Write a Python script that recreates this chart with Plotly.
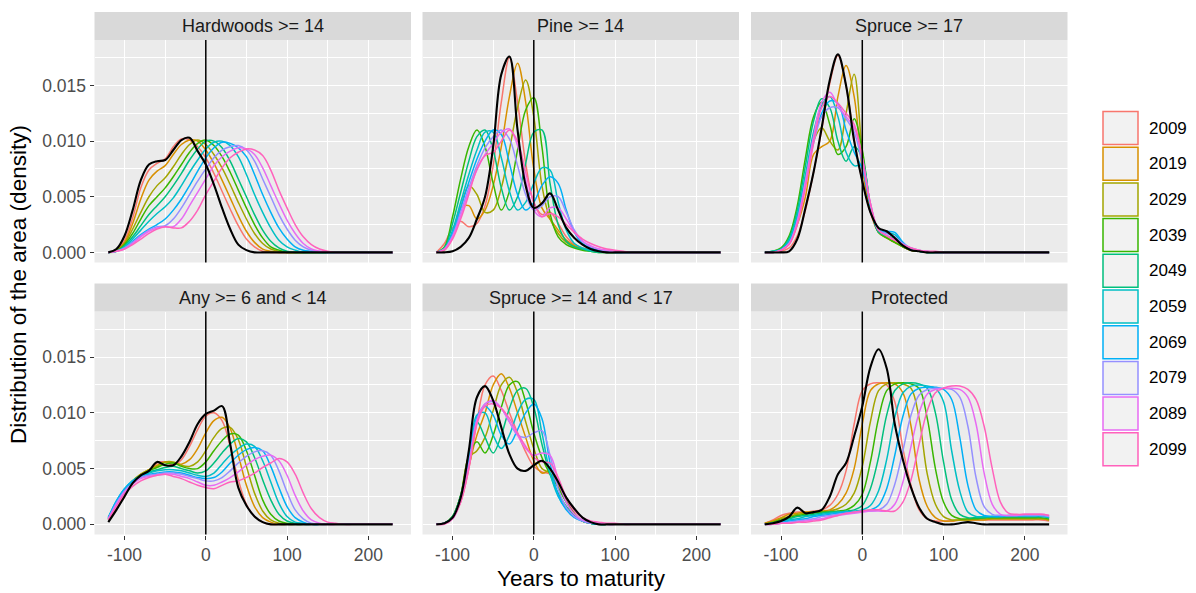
import plotly.graph_objects as go

W, H = 1196, 593
UNIT = 1e-4  # density values below are in units of 1e-4

X_GRID = [-120, -110, -100, -90, -80, -70, -60, -50, -40, -30, -20, -10,
          0, 10, 20, 30, 40, 50, 60, 70, 80, 90, 100, 110,
          120, 130, 140, 150, 160, 170, 180, 190, 200, 210, 220, 230]

YEARS = ["2009", "2019", "2029", "2039", "2049", "2059", "2069", "2079", "2089", "2099"]
YEAR_COLOURS = ["#F8766D", "#D89000", "#A3A500", "#39B600", "#00BF7D",
                "#00BFC4", "#00B0F6", "#9590FF", "#E76BF3", "#FF62BC"]
PANEL_TITLES = ["Hardwoods >= 14", "Pine >= 14", "Spruce >= 17",
                "Any >= 6 and < 14", "Spruce >= 14 and < 17", "Protected"]

X_TICKS = [-100, 0, 100, 200]
X_TICK_LABELS = ["-100", "0", "100", "200"]
X_MINOR = [-50, 50, 150]
Y_TICKS = [0.0, 0.005, 0.010, 0.015]
Y_TICK_LABELS = ["0.000", "0.005", "0.010", "0.015"]
Y_MINOR = [0.0025, 0.0075, 0.0125, 0.0175]
VLINE_X = 0

# ---------------- Hardwoods >= 14 ----------------
HARDWOODS_BY_YEAR = [
    [0,2,11,31,58,74,80,84,95,102,101,95, 85,71,55,39,24,12,5,1,0,0,0,0, 0,0,0,0,0,0,0,0,0,0,0,0],
    [0,2,9,26,48,65,73,78,88,97,101,100, 92,80,65,49,33,19,9,3,1,0,0,0, 0,0,0,0,0,0,0,0,0,0,0,0],
    [0,2,8,21,36,50,60,67,77,88,97,101, 97,88,76,61,45,30,17,8,3,1,0,0, 0,0,0,0,0,0,0,0,0,0,0,0],
    [0,1,7,17,30,42,50,58,68,79,90,98, 101,96,86,72,56,40,25,13,5,2,0,0, 0,0,0,0,0,0,0,0,0,0,0,0],
    [0,1,6,14,24,34,42,50,60,71,83,93, 100,100,94,82,66,50,34,20,10,4,1,0, 0,0,0,0,0,0,0,0,0,0,0,0],
    [0,1,5,12,20,28,35,41,49,60,72,83, 93,99,100,96,86,70,52,36,22,11,5,2, 0,0,0,0,0,0,0,0,0,0,0,0],
    [0,1,4,10,16,21,25,30,38,48,60,73, 85,94,99,98,94,86,70,52,36,22,12,5, 2,1,0,0,0,0,0,0,0,0,0,0],
    [0,1,4,9,15,20,23,24,30,40,52,64, 75,85,92,95,96,92,82,66,50,34,21,11, 5,2,1,0,0,0,0,0,0,0,0,0],
    [0,1,3,8,14,19,22,23,23,30,42,54, 66,78,86,91,94,93,88,76,60,44,29,17, 8,3,1,0,0,0,0,0,0,0,0,0],
    [0,1,3,7,12,17,21,23,22,22,28,38, 52,64,76,85,90,93,92,87,74,56,40,25, 14,7,3,1,0,0,0,0,0,0,0,0],
]
HARDWOODS_OBSERVED = [0,3,15,38,65,79,82,83,92,101,103,91, 79,61,40,21,7,2,0,0,0,0,0,0, 0,0,0,0,0,0,0,0,0,0,0,0]

# ---------------- Pine >= 14 ----------------
PINE_BY_YEAR = [
    [0,8,22,28,23,26,42,78,135,175,135,80, 45,34,36,26,14,7,4,2,1,0,0,0, 0,0,0,0,0,0,0,0,0,0,0,0],
    [0,3,15,40,42,30,38,60,95,140,170,135, 75,40,30,20,11,6,3,2,1,0,0,0, 0,0,0,0,0,0,0,0,0,0,0,0],
    [0,2,14,40,60,52,36,38,58,92,130,155, 122,60,30,17,9,5,3,2,1,0,0,0, 0,0,0,0,0,0,0,0,0,0,0,0],
    [0,5,32,66,95,110,95,62,38,55,92,128, 139,95,35,14,7,4,2,1,0,0,0,0, 0,0,0,0,0,0,0,0,0,0,0,0],
    [0,4,26,54,82,104,110,92,58,38,50,80, 108,110,62,25,10,5,3,1,0,0,0,0, 0,0,0,0,0,0,0,0,0,0,0,0],
    [0,3,20,45,70,92,108,108,85,55,38,45, 62,76,74,45,20,8,4,2,1,0,0,0, 0,0,0,0,0,0,0,0,0,0,0,0],
    [0,3,17,40,63,84,100,110,106,80,52,38, 45,60,68,62,38,18,8,4,2,1,0,0, 0,0,0,0,0,0,0,0,0,0,0,0],
    [0,3,15,36,58,78,94,104,110,102,78,52, 38,42,50,50,36,20,10,5,3,1,0,0, 0,0,0,0,0,0,0,0,0,0,0,0],
    [0,3,14,33,55,74,88,98,108,111,96,65, 38,32,40,40,30,18,10,6,3,2,1,0, 0,0,0,0,0,0,0,0,0,0,0,0],
    [0,2,12,30,52,75,87,90,100,110,100,72, 45,32,35,32,25,18,12,8,5,3,2,1, 0,0,0,0,0,0,0,0,0,0,0,0],
]
PINE_OBSERVED = [0,0,1,5,13,30,50,95,160,176,110,60, 40,44,53,38,22,13,7,3,1,0,0,0, 0,0,0,0,0,0,0,0,0,0,0,0]

# ---------------- Spruce >= 17 ----------------
SPRUCE17_BY_YEAR = [
    [0,0,1,4,15,38,72,110,152,177,150,102, 64,36,18,14,10,5,2,1,0,0,0,0, 0,0,0,0,0,0,0,0,0,0,0,0],
    [0,0,2,8,25,50,88,95,100,140,168,140, 75,38,18,13,9,5,2,1,0,0,0,0, 0,0,0,0,0,0,0,0,0,0,0,0],
    [0,0,2,9,30,65,100,112,100,92,125,160, 90,40,18,13,9,5,2,1,0,0,0,0, 0,0,0,0,0,0,0,0,0,0,0,0],
    [0,1,4,15,42,85,122,135,115,88,95,120, 92,42,18,13,9,5,2,1,0,0,0,0, 0,0,0,0,0,0,0,0,0,0,0,0],
    [0,1,3,13,38,78,118,138,130,100,82,95, 85,42,18,15,12,6,3,1,0,0,0,0, 0,0,0,0,0,0,0,0,0,0,0,0],
    [0,1,3,11,34,70,108,132,140,122,90,78, 78,42,20,18,16,8,3,1,0,0,0,0, 0,0,0,0,0,0,0,0,0,0,0,0],
    [0,0,2,9,30,64,100,125,136,134,110,90, 75,42,20,19,18,9,3,1,0,0,0,0, 0,0,0,0,0,0,0,0,0,0,0,0],
    [0,0,2,8,28,62,98,122,130,130,120,108, 80,44,20,17,14,8,4,2,1,0,0,0, 0,0,0,0,0,0,0,0,0,0,0,0],
    [0,0,2,8,28,64,104,135,144,132,122,112, 85,44,20,15,11,7,4,2,1,0,0,0, 0,0,0,0,0,0,0,0,0,0,0,0],
    [0,0,2,7,25,58,98,130,140,134,125,115, 85,44,20,15,11,7,4,2,1,1,0,0, 0,0,0,0,0,0,0,0,0,0,0,0],
]
SPRUCE17_OBSERVED = [0,0,0,1,12,40,72,112,155,178,150,100, 64,36,22,19,13,6,2,1,0,0,0,0, 0,0,0,0,0,0,0,0,0,0,0,0]

# ---------------- Any >= 6 and < 14 ----------------
ANY_BY_YEAR = [
    [4,14,26,37,44,48,55,56,53,58,70,85, 97,100,93,70,40,18,7,2,0,0,0,0, 0,0,0,0,0,0,0,0,0,0,0,0],
    [4,15,27,38,45,49,53,56,55,54,58,68, 82,93,96,86,62,35,16,6,2,0,0,0, 0,0,0,0,0,0,0,0,0,0,0,0],
    [5,17,29,39,45,49,52,56,56,53,52,56, 66,78,86,87,76,52,28,12,4,1,0,0, 0,0,0,0,0,0,0,0,0,0,0,0],
    [5,18,30,39,44,48,51,54,55,52,50,50, 56,66,75,81,80,66,44,22,9,3,1,0, 0,0,0,0,0,0,0,0,0,0,0,0],
    [6,20,31,39,44,47,49,51,52,50,48,46, 48,55,64,72,77,74,60,40,22,9,3,1, 0,0,0,0,0,0,0,0,0,0,0,0],
    [6,21,32,39,43,46,48,49,49,48,46,44, 43,46,54,62,68,72,70,57,38,19,7,2, 1,0,0,0,0,0,0,0,0,0,0,0],
    [6,21,32,39,43,45,46,47,47,46,44,42, 41,42,47,55,62,67,69,66,52,33,16,6, 2,0,0,0,0,0,0,0,0,0,0,0],
    [5,19,30,37,42,44,45,46,46,45,43,41, 39,39,42,48,55,61,65,66,62,48,29,13, 5,1,0,0,0,0,0,0,0,0,0,0],
    [5,18,29,36,41,43,44,45,45,43,41,38, 35,35,38,42,47,53,58,61,62,57,44,26, 12,4,1,0,0,0,0,0,0,0,0,0],
    [4,16,27,34,39,42,44,45,43,41,38,35, 33,32,35,38,39,42,46,51,55,59,56,45, 28,14,6,2,1,0,0,0,0,0,0,0],
]
ANY_OBSERVED = [2,13,25,37,44,48,56,53,53,61,74,90, 99,102,106,72,33,17,7,2,0,0,0,0, 0,0,0,0,0,0,0,0,0,0,0,0]

# ---------------- Spruce >= 14 and < 17 ----------------
SPRUCE14_BY_YEAR = [
    [0,1,6,20,50,92,125,133,120,100,82,65, 52,47,45,35,20,9,3,1,0,0,0,0, 0,0,0,0,0,0,0,0,0,0,0,0],
    [0,1,6,22,52,80,100,125,135,122,100,78, 57,46,48,40,22,9,3,1,0,0,0,0, 0,0,0,0,0,0,0,0,0,0,0,0],
    [0,1,7,26,60,66,78,102,125,132,118,92, 68,50,46,38,22,10,3,1,0,0,0,0, 0,0,0,0,0,0,0,0,0,0,0,0],
    [0,1,7,26,62,74,64,80,105,125,128,110, 82,60,45,33,20,9,3,1,0,0,0,0, 0,0,0,0,0,0,0,0,0,0,0,0],
    [0,1,7,26,60,92,78,64,80,104,120,122, 105,72,45,28,16,8,3,1,0,0,0,0, 0,0,0,0,0,0,0,0,0,0,0,0],
    [0,1,6,24,58,98,100,80,68,80,100,112, 112,82,46,25,14,7,3,1,0,0,0,0, 0,0,0,0,0,0,0,0,0,0,0,0],
    [0,1,6,23,56,96,106,98,80,72,85,100, 108,95,55,26,13,6,3,1,0,0,0,0, 0,0,0,0,0,0,0,0,0,0,0,0],
    [0,1,5,22,54,94,108,110,104,92,80,78, 82,84,62,32,15,7,3,1,1,0,0,0, 0,0,0,0,0,0,0,0,0,0,0,0],
    [0,1,5,21,52,93,108,111,104,92,80,68, 62,64,62,40,20,9,4,2,1,0,0,0, 0,0,0,0,0,0,0,0,0,0,0,0],
    [0,0,5,20,50,90,106,108,104,95,82,70, 60,56,55,42,24,12,6,3,2,1,1,0, 0,0,0,0,0,0,0,0,0,0,0,0],
]
SPRUCE14_OBSERVED = [0,1,6,24,66,114,124,111,87,63,50,48, 53,57,50,38,24,14,6,2,0,0,0,0, 0,0,0,0,0,0,0,0,0,0,0,0]

# ---------------- Protected ----------------
PROTECTED_BY_YEAR = [
    [1,4,8,10,11,11,12,13,17,27,48,90, 120,126,127,125,110,68,35,13,5,3,3,3, 4,4,4,4,4,4,4,4,4,4,4,3],
    [1,3,6,9,10,11,11,12,13,18,28,50, 90,120,126,127,126,118,88,40,16,6,3,3, 4,4,4,4,5,5,5,5,5,5,5,4],
    [1,2,5,7,9,10,11,11,12,14,18,28, 52,92,120,126,127,126,122,95,45,18,7,4, 4,4,5,5,5,5,5,5,5,5,5,4],
    [0,2,4,6,8,9,10,11,11,12,13,17, 27,56,95,120,126,127,126,122,95,50,20,8, 5,5,5,6,6,6,6,6,6,6,6,5],
    [0,1,3,5,7,8,9,10,11,11,12,13, 17,32,60,98,120,126,127,126,122,100,56,22, 9,6,6,6,7,7,7,7,7,7,7,6],
    [0,1,2,4,5,7,8,9,10,11,11,12, 13,17,30,58,96,118,124,125,124,122,110,66, 30,11,7,7,7,7,7,7,7,7,7,6],
    [0,1,2,3,4,5,7,8,9,10,11,11, 12,13,17,32,62,97,117,122,123,123,121,112, 78,35,13,8,7,7,8,8,8,8,8,7],
    [0,0,1,2,3,4,5,7,8,9,10,11, 12,12,13,18,36,66,98,116,121,122,122,121, 114,88,42,16,9,8,8,8,8,8,8,7],
    [0,0,1,1,2,3,4,5,7,8,9,10, 11,12,12,12,18,38,70,100,117,121,122,122, 121,114,90,46,18,9,8,8,9,9,9,8],
    [0,0,1,1,2,2,3,4,6,8,10,11, 12,13,13,12,12,20,40,72,102,118,122,124, 124,121,112,88,50,20,10,9,9,9,9,8],
]
PROTECTED_OBSERVED = [0,1,3,7,15,10,11,13,25,45,55,79, 106,141,157,140,90,58,33,15,5,2,0,0, 1,2,1,0,0,0,0,0,0,0,0,0]

PANEL_SERIES = [
    (HARDWOODS_BY_YEAR, HARDWOODS_OBSERVED),
    (PINE_BY_YEAR, PINE_OBSERVED),
    (SPRUCE17_BY_YEAR, SPRUCE17_OBSERVED),
    (ANY_BY_YEAR, ANY_OBSERVED),
    (SPRUCE14_BY_YEAR, SPRUCE14_OBSERVED),
    (PROTECTED_BY_YEAR, PROTECTED_OBSERVED),
]

# ---------------- layout geometry (pixels) ----------------
COL_PX = [(94.5, 411.0), (422.5, 739.0), (751.0, 1067.5)]
ROW_PX = [(40.0, 262.5), (311.5, 534.5)]
STRIP_H = 28.0
X_RANGE = [-137.0, 252.6]
Y_RANGE = [-0.000909, 0.019088]

FONT = "Liberation Sans, Arial, Helvetica, sans-serif"
TICK_FONT = dict(family=FONT, size=17.5, color="#4D4D4D")
PANEL_BG = "#EBEBEB"
STRIP_BG = "#D9D9D9"


def fx(px):
    return px / W


def fy(py):
    return 1 - py / H


def esc(s):
    return s.replace("&", "&amp;").replace("<", "&lt;").replace(">", "&gt;")


fig = go.Figure()
shapes = []
annotations = []
layout_axes = {}

for i, title in enumerate(PANEL_TITLES):
    r, c = divmod(i, 3)
    n = i + 1
    xname = "x" if n == 1 else f"x{n}"
    yname = "y" if n == 1 else f"y{n}"
    xkey = "xaxis" if n == 1 else f"xaxis{n}"
    ykey = "yaxis" if n == 1 else f"yaxis{n}"
    x0, x1 = COL_PX[c]
    top, bot = ROW_PX[r]

    layout_axes[xkey] = dict(
        domain=[fx(x0), fx(x1)], anchor=yname, range=X_RANGE,
        showgrid=True, gridcolor="white", gridwidth=1.4, zeroline=False, showline=False,
        tickmode="array", tickvals=X_TICKS, ticktext=X_TICK_LABELS,
        showticklabels=(r == 1), ticks="outside" if r == 1 else "",
        ticklen=4, tickwidth=1.1, tickcolor="#333333", tickfont=TICK_FONT,
        minor=dict(tickvals=X_MINOR, showgrid=True, gridcolor="white", gridwidth=0.7, ticks=""),
        fixedrange=True,
    )
    layout_axes[ykey] = dict(
        domain=[fy(bot), fy(top)], anchor=xname, range=Y_RANGE,
        showgrid=True, gridcolor="white", gridwidth=1.4, zeroline=False, showline=False,
        tickmode="array", tickvals=Y_TICKS, ticktext=Y_TICK_LABELS,
        showticklabels=(c == 0), ticks="outside" if c == 0 else "",
        ticklen=4, tickwidth=1.1, tickcolor="#333333", tickfont=TICK_FONT,
        minor=dict(tickvals=Y_MINOR, showgrid=True, gridcolor="white", gridwidth=0.7, ticks=""),
        fixedrange=True,
    )

    by_year, observed = PANEL_SERIES[i]
    for k, year in enumerate(YEARS):
        fig.add_trace(go.Scatter(
            x=X_GRID, y=[v * UNIT for v in by_year[k]], mode="lines",
            line=dict(color=YEAR_COLOURS[k], width=1.5, shape="spline", smoothing=1.0),
            name=year, showlegend=False, xaxis=xname, yaxis=yname, hoverinfo="skip",
        ))
    fig.add_trace(go.Scatter(
        x=X_GRID, y=[v * UNIT for v in observed], mode="lines",
        line=dict(color="black", width=2.1, shape="spline", smoothing=1.0),
        name="observed", showlegend=False, xaxis=xname, yaxis=yname, hoverinfo="skip",
    ))

    # vertical reference line at x = 0
    shapes.append(dict(type="line", xref=xname, yref=f"{yname} domain",
                       x0=VLINE_X, x1=VLINE_X, y0=0, y1=1,
                       line=dict(color="black", width=1.5), layer="above"))
    # facet strip
    shapes.append(dict(type="rect", xref="paper", yref="paper",
                       x0=fx(x0), x1=fx(x1), y0=fy(top), y1=fy(top - STRIP_H),
                       fillcolor=STRIP_BG, line=dict(width=0), layer="below"))
    annotations.append(dict(text=esc(title), xref="paper", yref="paper",
                            x=fx((x0 + x1) / 2), y=fy(top - STRIP_H / 2),
                            xanchor="center", yanchor="middle", showarrow=False,
                            font=dict(family=FONT, size=18, color="#1A1A1A")))

# custom legend (outlined keys, like ggplot density keys)
LEG_X0, LEG_X1 = 1103.0, 1138.0
LEG_TOP, LEG_PITCH, LEG_BOX_H = 111.5, 35.7, 33.0
for k, year in enumerate(YEARS):
    t = LEG_TOP + k * LEG_PITCH
    shapes.append(dict(type="rect", xref="paper", yref="paper",
                       x0=fx(LEG_X0), x1=fx(LEG_X1), y0=fy(t + LEG_BOX_H), y1=fy(t),
                       fillcolor="#F2F2F2", line=dict(color=YEAR_COLOURS[k], width=1.5)))
    annotations.append(dict(text=year, xref="paper", yref="paper",
                            x=fx(LEG_X1 + 9), y=fy(t + LEG_BOX_H / 2),
                            xanchor="left", yanchor="middle", showarrow=False,
                            font=dict(family=FONT, size=17, color="black")))

# axis titles
annotations.append(dict(text="Years to maturity", xref="paper", yref="paper",
                        x=fx(581), y=fy(578), xanchor="center", yanchor="middle",
                        showarrow=False, font=dict(family=FONT, size=22.5, color="black")))
annotations.append(dict(text="Distribution of the area (density)", xref="paper", yref="paper",
                        x=fx(18), y=fy(285), xanchor="center", yanchor="middle", textangle=-90,
                        showarrow=False, font=dict(family=FONT, size=22.5, color="black")))

fig.update_layout(
    width=W, height=H, margin=dict(l=0, r=0, t=0, b=0),
    paper_bgcolor="white", plot_bgcolor=PANEL_BG,
    showlegend=False, shapes=shapes, annotations=annotations,
    font=dict(family=FONT),
    **layout_axes,
)

fig.write_html("out.html",
               config={"displayModeBar": False},
               post_script="document.body.style.margin='0px';document.body.style.overflow='hidden';")
